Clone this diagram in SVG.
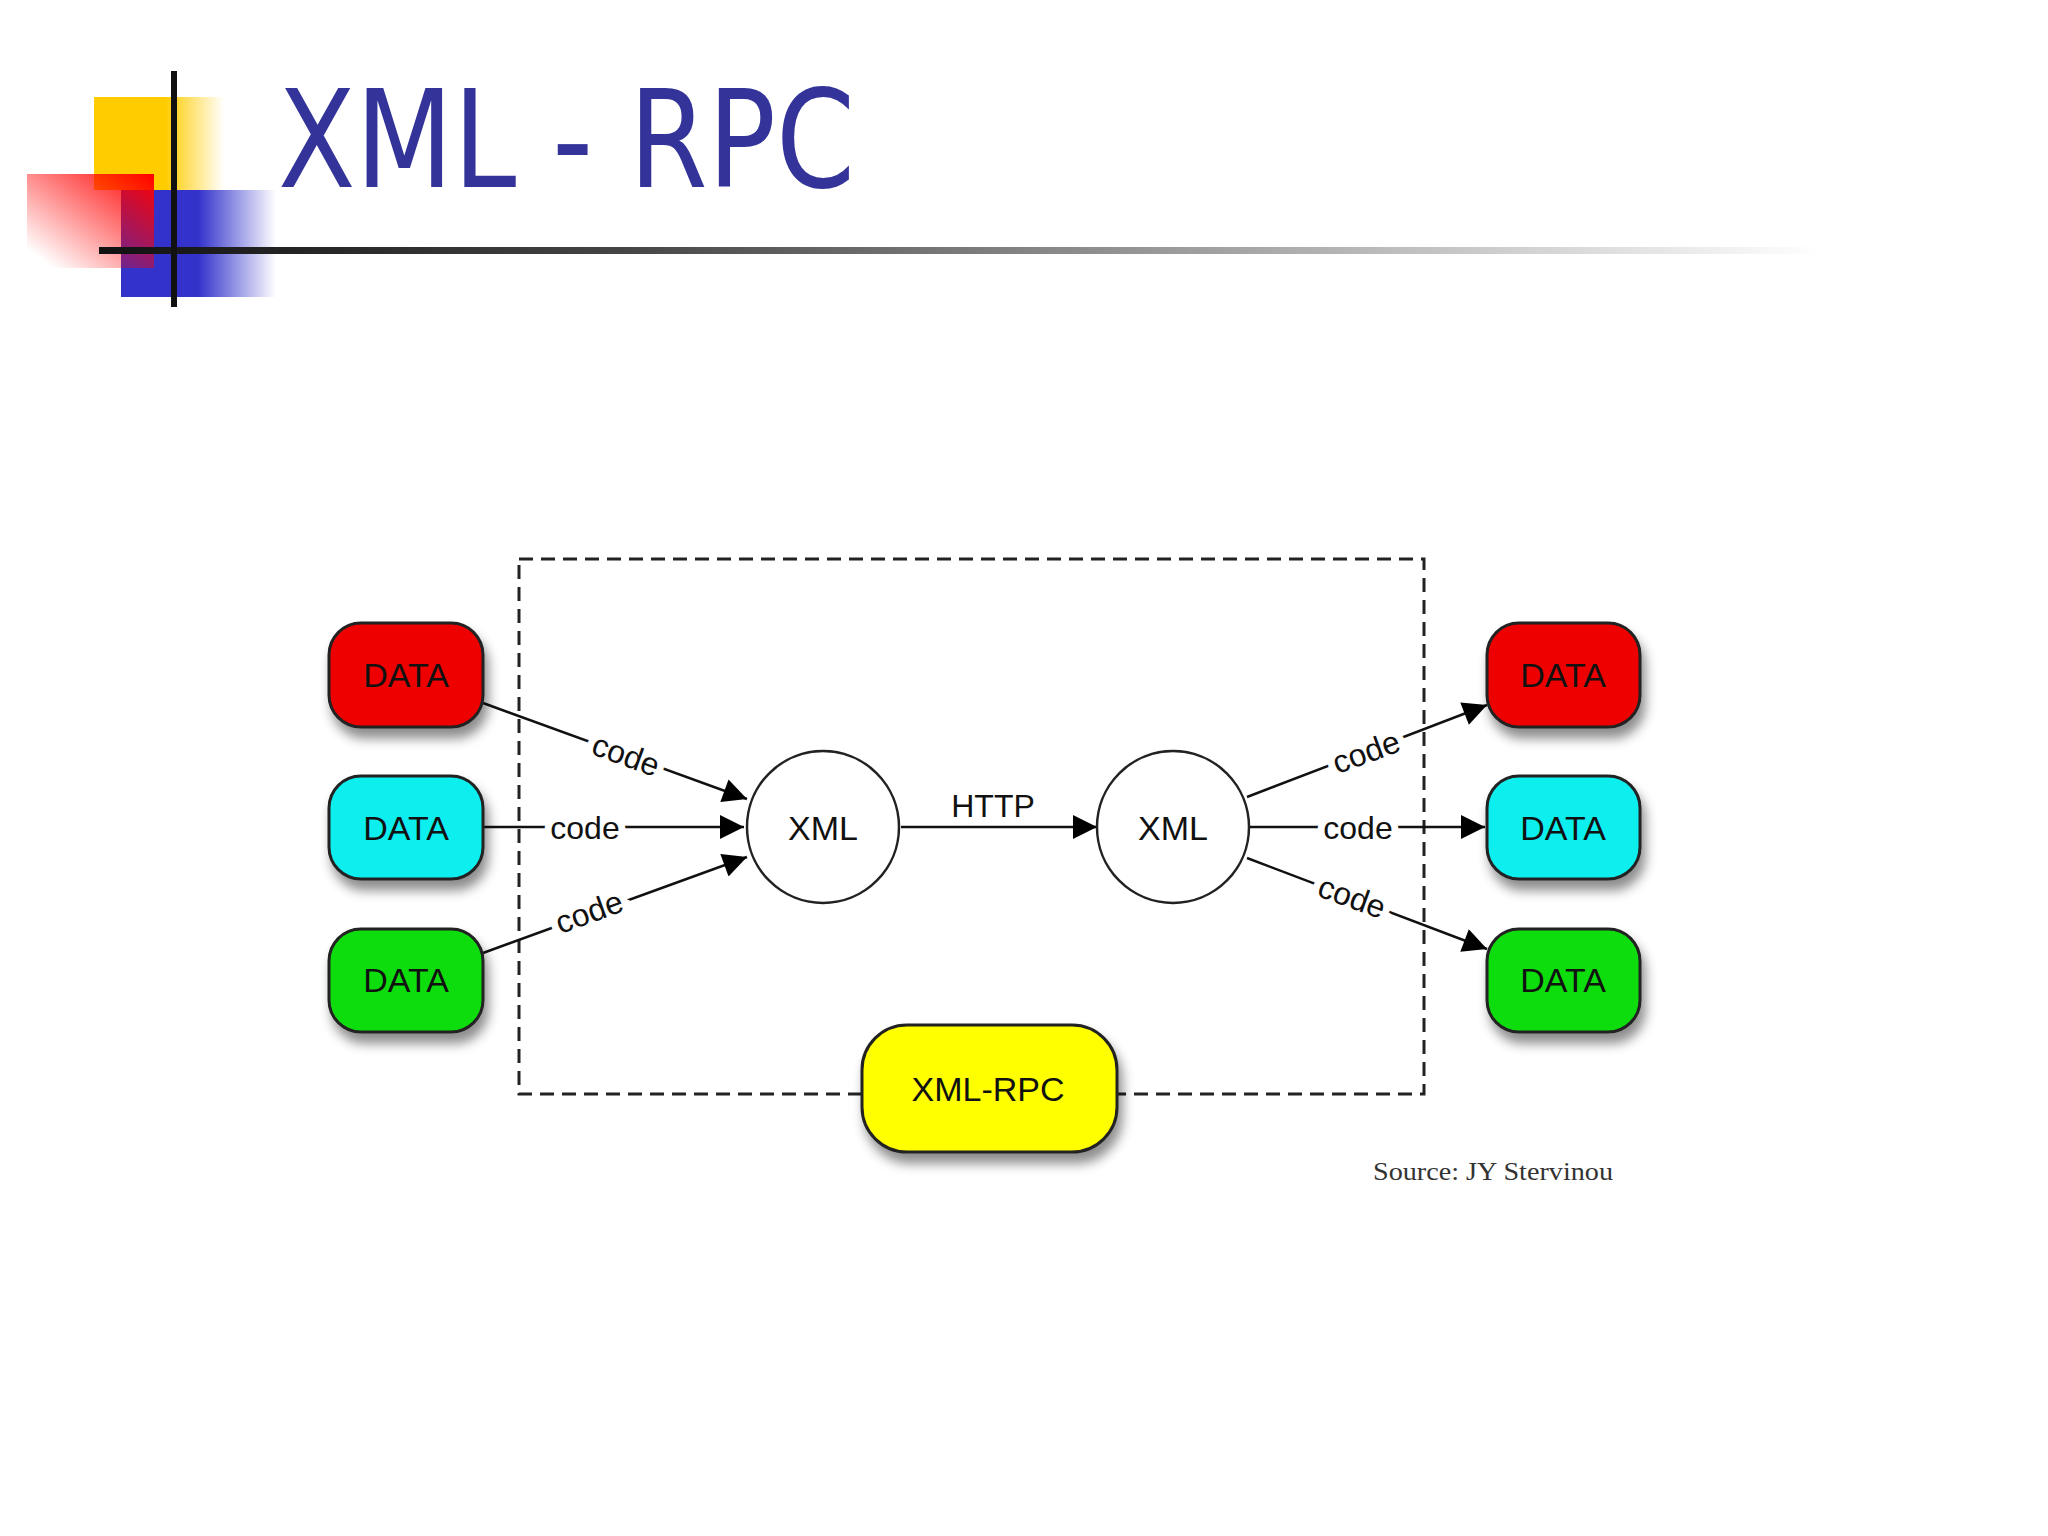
<svg xmlns="http://www.w3.org/2000/svg" width="2048" height="1536" viewBox="0 0 2048 1536">
<defs>
<linearGradient id="gy" x1="0" x2="1" y1="0" y2="0"><stop offset="0.55" stop-color="#ffcc00"/><stop offset="1" stop-color="#ffcc00" stop-opacity="0"/></linearGradient>
<linearGradient id="gb" x1="0" x2="1" y1="0" y2="0"><stop offset="0.5" stop-color="#3333cc"/><stop offset="1" stop-color="#3333cc" stop-opacity="0"/></linearGradient>
<linearGradient id="gr" x1="1" y1="0" x2="0" y2="1"><stop offset="0" stop-color="#ff0000"/><stop offset="0.9" stop-color="#ff0000" stop-opacity="0"/></linearGradient>
<linearGradient id="gl" x1="0" x2="1" y1="0" y2="0"><stop offset="0" stop-color="#111"/><stop offset="0.3" stop-color="#444"/><stop offset="1" stop-color="#444" stop-opacity="0"/></linearGradient>
<filter id="sh" x="-20%" y="-20%" width="150%" height="160%"><feDropShadow dx="4" dy="10" stdDeviation="6" flood-color="#000" flood-opacity="0.45"/></filter>
<marker id="ar2" viewBox="0 0 10 10" refX="10" refY="5" markerWidth="32" markerHeight="24" markerUnits="userSpaceOnUse" orient="auto"><path d="M0,0 L10,5 L0,10 z" fill="#000"/></marker>
<style>
.data{stroke:#222;stroke-width:3}
.t{font-family:"Liberation Sans",Arial,sans-serif;font-size:34px;fill:#111;text-anchor:middle;dominant-baseline:central}
.c{font-family:"Liberation Sans",Arial,sans-serif;font-size:32px;fill:#111;text-anchor:middle;dominant-baseline:central;stroke:#fff;stroke-width:14px;paint-order:stroke}
.ln{stroke:#111;stroke-width:2.5;fill:none;marker-end:url(#ar2)}
</style>
</defs>
<rect width="2048" height="1536" fill="#fff"/>
<g id="decor">
<rect x="94" y="97" width="130" height="93" fill="url(#gy)"/>
<rect x="121" y="190" width="155" height="107" fill="url(#gb)"/>
<rect x="27" y="174" width="127" height="94" fill="url(#gr)"/>
<rect x="99" y="247" width="1720" height="7" fill="url(#gl)"/>
<rect x="171" y="71" width="6" height="236" fill="#111"/>
</g>
<text id="title" x="278" y="187" font-family="DejaVu Sans,Verdana,sans-serif" font-size="136" fill="#333399" textLength="577" lengthAdjust="spacingAndGlyphs">XML - RPC</text>
<g id="boundary"><rect x="519" y="559" width="905" height="535" fill="none" stroke="#222" stroke-width="3" stroke-dasharray="14,8"/></g>
<g id="connectors">
<line class="ln" x1="483" y1="703" x2="747" y2="799"/>
<line class="ln" x1="483" y1="827" x2="744" y2="827"/>
<line class="ln" x1="483" y1="953" x2="747" y2="857"/>
<line class="ln" x1="901" y1="827" x2="1097" y2="827"/>
<line class="ln" x1="1247" y1="797" x2="1487" y2="705"/>
<line class="ln" x1="1250" y1="827" x2="1485" y2="827"/>
<line class="ln" x1="1247" y1="858" x2="1487" y2="949"/>
<text class="c" transform="translate(626,755) rotate(20)">code</text>
<text class="c" x="585" y="828">code</text>
<text class="c" transform="translate(589,912) rotate(-20)">code</text>
<text class="c" transform="translate(1366,752) rotate(-20)">code</text>
<text class="c" x="1358" y="828">code</text>
<text class="c" transform="translate(1352,897) rotate(20)">code</text>
<text class="c" x="993" y="806">HTTP</text>
</g>
<g id="data-l1"><rect class="data" x="329" y="623" width="154" height="104" rx="32" fill="#ee0000" filter="url(#sh)"/><text class="t" x="406" y="675">DATA</text></g>
<g id="data-l2"><rect class="data" x="329" y="776" width="154" height="103" rx="32" fill="#11eeee" filter="url(#sh)"/><text class="t" x="406" y="828">DATA</text></g>
<g id="data-l3"><rect class="data" x="329" y="929" width="154" height="103" rx="32" fill="#11dd11" filter="url(#sh)"/><text class="t" x="406" y="980">DATA</text></g>
<g id="data-r1"><rect class="data" x="1487" y="623" width="153" height="104" rx="32" fill="#ee0000" filter="url(#sh)"/><text class="t" x="1563" y="675">DATA</text></g>
<g id="data-r2"><rect class="data" x="1487" y="776" width="153" height="103" rx="32" fill="#11eeee" filter="url(#sh)"/><text class="t" x="1563" y="828">DATA</text></g>
<g id="data-r3"><rect class="data" x="1487" y="929" width="153" height="103" rx="32" fill="#11dd11" filter="url(#sh)"/><text class="t" x="1563" y="980">DATA</text></g>
<g id="xml-l"><circle cx="823" cy="827" r="76" fill="#fff" stroke="#222" stroke-width="2.5"/><text class="t" x="823" y="828">XML</text></g>
<g id="xml-r"><circle cx="1173" cy="827" r="76" fill="#fff" stroke="#222" stroke-width="2.5"/><text class="t" x="1173" y="828">XML</text></g>
<g id="xmlrpc"><rect class="data" x="862" y="1025" width="255" height="127" rx="45" fill="#ffff00" filter="url(#sh)"/><text class="t" x="988" y="1089">XML-RPC</text></g>
<text id="source" x="1373" y="1180" font-family="Liberation Serif,serif" font-size="25" fill="#333" textLength="240" lengthAdjust="spacingAndGlyphs">Source: JY Stervinou</text>
</svg>
